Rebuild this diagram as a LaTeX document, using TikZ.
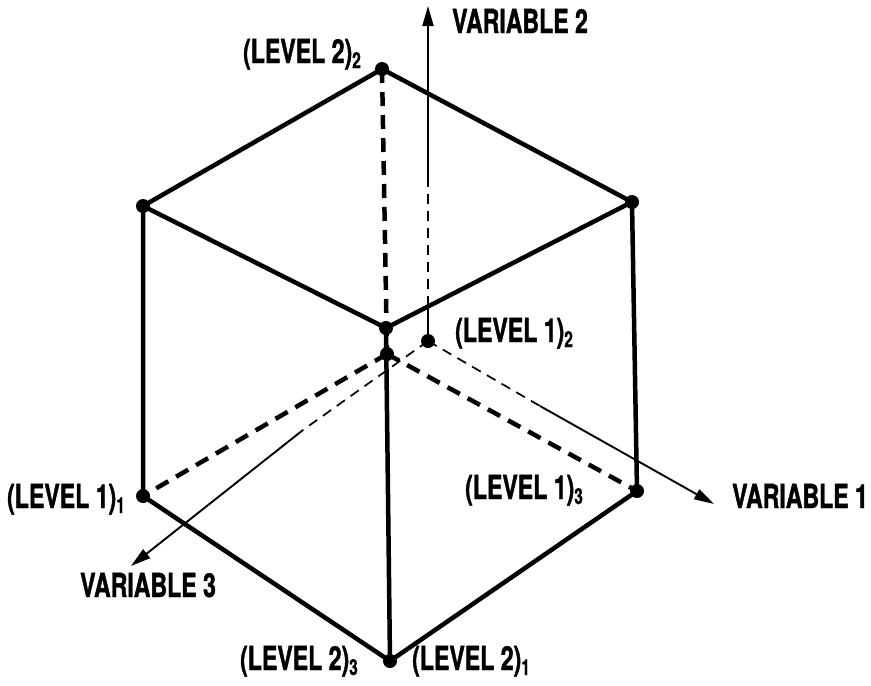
\documentclass[tikz,border=0pt]{standalone}
\usepackage{fontspec}
\setmainfont[FakeStretch=0.70,FakeBold=1.2]{TeX Gyre Heros}
\usetikzlibrary{arrows.meta}
\newcommand{\lvs}[1]{\raisebox{-5pt}{\fontsize{22}{22}\selectfont #1}}
\begin{document}
\begin{tikzpicture}[x=1pt,y=-1pt,
  edge/.style={line width=4.5pt, line cap=round, line join=round},
  hidden/.style={line width=4.5pt, dash pattern=on 14pt off 9pt},
  axis/.style={line width=1.9pt},
  axisdash/.style={line width=1.7pt, dash pattern=on 10pt off 7pt},
  tipped/.style={-{Triangle[length=20pt,width=11pt]}},
  vtx/.style={circle, fill=black, inner sep=0pt, minimum size=14pt},
  lab/.style={font=\fontsize{33}{33}\selectfont\bfseries, inner sep=0pt}]
\useasboundingbox (0,0) rectangle (871,686);
% vertices
\node[vtx] (T) at (382,69) {};
\node[vtx] (UL) at (143,206) {};
\node[vtx] (UR) at (632,202) {};
\node[vtx] (F) at (386,328) {};
\node[vtx] (H) at (387,354) {};
\node[vtx] (LL) at (143,496) {};
\node[vtx] (LR) at (637,491) {};
\node[vtx] (B) at (390,661) {};
\node[vtx] (O) at (428,341) {};
% axis coordinates
\coordinate (v2a) at (428,180);
\coordinate (v2b) at (428,306);
\coordinate (v2t) at (428,6);
\coordinate (v1a) at (540,406);
\coordinate (v1t) at (714,504);
\coordinate (v3a) at (303,430);
\coordinate (v3t) at (131,566);
% hidden edges
\draw[hidden] (T.center) -- (H.center);
\draw[hidden] (H.center) -- (LL.center);
\draw[hidden] (H.center) -- (LR.center);
% axes
\draw[axis] (O.center) -- (v2b);
\draw[axisdash] (v2b) -- (v2a);
\draw[axis, tipped] (v2a) -- (v2t);
\draw[axisdash] (O.center) -- (v1a);
\draw[axis, tipped] (v1a) -- (v1t);
\draw[axisdash] (O.center) -- (v3a);
\draw[axis, tipped] (v3a) -- (v3t);
% visible edges
\draw[edge] (UL.center) -- (T.center) -- (UR.center);
\draw[edge] (UL.center) -- (F.center) -- (UR.center);
\draw[edge] (UL.center) -- (LL.center) -- (B.center) -- (LR.center) -- (UR.center);
\draw[edge] (F.center) -- (B.center);
% labels
\node[lab, anchor=base east] (l22) at (361,63) {(LEVEL 2)\lvs{2}};
\node[lab, anchor=base west] (l12) at (455,342) {(LEVEL 1)\lvs{2}};
\node[lab, anchor=base east] (l11) at (125,508) {(LEVEL 1)\lvs{1}};
\node[lab, anchor=base west] (l13) at (465,499) {(LEVEL 1)\lvs{3}};
\node[lab, anchor=base east] (l23) at (358,670) {(LEVEL 2)\lvs{3}};
\node[lab, anchor=base west] (l21) at (412,670) {(LEVEL 2)\lvs{1}};
\node[lab, anchor=base west] (v2) at (452,33) {VARIABLE 2};
\node[lab, anchor=base west] (v1) at (732,508) {VARIABLE 1};
\node[lab, anchor=base west] (v3) at (80,597) {VARIABLE 3};
\end{tikzpicture}
\end{document}
